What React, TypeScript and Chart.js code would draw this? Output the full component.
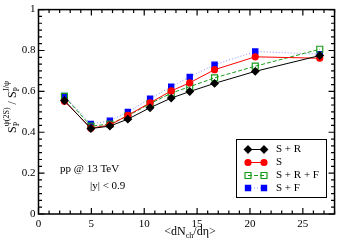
import React, { useEffect, useRef } from "react";
import { Chart, registerables } from "chart.js";

Chart.register(...registerables);

// ---- data ----
const xValues = [2.45, 4.95, 6.75, 8.45, 10.55, 12.55, 14.3, 16.65, 20.5, 26.6];
const seriesLabels = ["S + R", "S", "S + R + F", "S + F"];
const valuesSR = [0.555, 0.418, 0.43, 0.464, 0.52, 0.567, 0.599, 0.639, 0.698, 0.775];
const valuesS = [0.552, 0.42, 0.435, 0.483, 0.544, 0.602, 0.642, 0.706, 0.769, 0.762];
const valuesSRF = [0.575, 0.43, 0.44, 0.48, 0.54, 0.591, 0.623, 0.666, 0.723, 0.806];
const valuesSF = [0.578, 0.44, 0.456, 0.499, 0.564, 0.623, 0.671, 0.73, 0.795, 0.782];
const xMajorTicks = [0, 5, 10, 15, 20, 25];
const yMajorTicks = [0, 0.2, 0.4, 0.6, 0.8, 1];
const annotationLines = ["pp @ 13 TeV", "|y| < 0.9"];

const FONT = '"Liberation Serif", "Times New Roman", serif';

type Style = {
  line: string;
  marker: string;
  fill: string;
  shape: "diamond" | "circle" | "square";
  radius: number;
  dash: number[];
};

// radius: diamond/circle = half size; square = half side
const styles: Style[] = [
  { line: "#000000", marker: "#000000", fill: "#000000", shape: "diamond", radius: 3.6, dash: [] },
  { line: "#ff0000", marker: "#ff0000", fill: "#ff0000", shape: "circle", radius: 3.0, dash: [] },
  { line: "#1a9a1a", marker: "#1a9a1a", fill: "rgba(0,0,0,0)", shape: "square", radius: 3.0, dash: [4, 2] },
  { line: "#8c8cff", marker: "#0000ff", fill: "#0000ff", shape: "square", radius: 2.6, dash: [1, 2] },
];

function drawMarker(ctx: CanvasRenderingContext2D, st: Style, x: number, y: number) {
  ctx.save();
  ctx.setLineDash([]);
  ctx.lineWidth = 1.2;
  ctx.strokeStyle = st.marker;
  ctx.fillStyle = st.fill;
  const r = st.radius;
  ctx.beginPath();
  if (st.shape === "circle") {
    ctx.arc(x, y, r, 0, Math.PI * 2);
  } else if (st.shape === "diamond") {
    ctx.moveTo(x, y - r);
    ctx.lineTo(x + r, y);
    ctx.lineTo(x, y + r);
    ctx.lineTo(x - r, y);
    ctx.closePath();
  } else {
    ctx.rect(x - r, y - r, r * 2, r * 2);
  }
  ctx.fill();
  ctx.stroke();
  ctx.restore();
}

const framePlugin = {
  id: "framePlugin",
  afterDraw(chart: any) {
    const ctx: CanvasRenderingContext2D = chart.ctx;
    const { left, right, top, bottom } = chart.chartArea;
    const xs = chart.scales.x;
    const ys = chart.scales.y;
    ctx.save();
    ctx.strokeStyle = "#000";
    ctx.lineWidth = 1.5;
    ctx.strokeRect(left, top, right - left, bottom - top);

    // ticks
    ctx.lineWidth = 1.2;
    const maj = 6;
    const min = 3.5;
    ctx.beginPath();
    for (let v = 0; v <= 28; v++) {
      const len = v % 5 === 0 ? maj : min;
      const px = xs.getPixelForValue(v);
      ctx.moveTo(px, bottom);
      ctx.lineTo(px, bottom - len);
      ctx.moveTo(px, top);
      ctx.lineTo(px, top + len);
    }
    for (let i = 0; i <= 30; i++) {
      const v = i / 30;
      const len = i % 6 === 0 ? maj : min;
      const py = ys.getPixelForValue(v);
      ctx.moveTo(left, py);
      ctx.lineTo(left + len, py);
      ctx.moveTo(right, py);
      ctx.lineTo(right - len, py);
    }
    ctx.stroke();

    // annotation text
    ctx.fillStyle = "#000";
    ctx.font = `11px ${FONT}`;
    ctx.textBaseline = "middle";
    ctx.textAlign = "left";
    ctx.fillText(annotationLines[0], 60, 169);
    ctx.fillText(annotationLines[1], 90, 186);

    // x title: <dN_ch/dη>
    const xt = 190;
    const yb = 235;
    ctx.textBaseline = "alphabetic";
    const mainF = `12px ${FONT}`;
    const subF = `8px ${FONT}`;
    ctx.font = mainF;
    const p1 = "<dN";
    const p3 = "/d\u03b7>";
    const w1 = ctx.measureText(p1).width;
    const w3 = ctx.measureText(p3).width;
    ctx.font = subF;
    const w2 = ctx.measureText("ch").width;
    let cx = xt - (w1 + w2 + w3) / 2;
    ctx.font = mainF;
    ctx.fillText(p1, cx, yb);
    cx += w1;
    ctx.font = subF;
    ctx.fillText("ch", cx, yb + 3);
    cx += w2;
    ctx.font = mainF;
    ctx.fillText(p3, cx, yb);

    // y title: S_P^{ψ(2S)} / S_P^{J/ψ}
    ctx.save();
    ctx.translate(16, 107);
    ctx.rotate(-Math.PI / 2);
    const parts: [string, string, string][] = [
      ["S", "P", "\u03c8(2S)"],
      [" / S", "P", "J/\u03c8"],
    ];
    let total = 0;
    const widths: number[][] = [];
    for (const [m, sb, sp] of parts) {
      ctx.font = mainF;
      const wm = ctx.measureText(m).width;
      ctx.font = subF;
      const ws = Math.max(ctx.measureText(sb).width, ctx.measureText(sp).width);
      widths.push([wm, ws]);
      total += wm + ws;
    }
    let ux = -total / 2;
    parts.forEach(([m, sb, sp], i) => {
      ctx.font = mainF;
      ctx.fillText(m, ux, 0);
      ux += widths[i][0];
      ctx.font = subF;
      ctx.fillText(sb, ux, 3);
      ctx.fillText(sp, ux, -7);
      ux += widths[i][1];
    });
    ctx.restore();

    // legend
    const lx0 = 236.5;
    const ly0 = 139.5;
    ctx.lineWidth = 1;
    ctx.strokeStyle = "#000";
    ctx.fillStyle = "#fff";
    ctx.fillRect(lx0, ly0, 90, 58);
    ctx.strokeRect(lx0, ly0, 90, 58);
    const rowsY = [149.5, 162.5, 175.5, 188];
    ctx.font = `11px ${FONT}`;
    ctx.textBaseline = "middle";
    seriesLabels.forEach((lab, i) => {
      const st = styles[i];
      const y = rowsY[i];
      ctx.save();
      ctx.strokeStyle = st.line;
      ctx.setLineDash(st.dash);
      ctx.lineWidth = 1;
      ctx.beginPath();
      ctx.moveTo(248, y);
      ctx.lineTo(264, y);
      ctx.stroke();
      ctx.restore();
      drawMarker(ctx, st, 248, y);
      drawMarker(ctx, st, 264, y);
      ctx.fillStyle = "#000";
      ctx.fillText(lab, 276, y);
    });
    ctx.restore();
  },
};

export default function App() {
  const ref = useRef<HTMLCanvasElement | null>(null);
  useEffect(() => {
    document.body.style.margin = "0";
    const canvas = ref.current;
    if (!canvas) return;
    const all = [valuesSR, valuesS, valuesSRF, valuesSF];
    const datasets = all.map((vals, i) => {
      const st = styles[i];
      return {
        label: seriesLabels[i],
        data: xValues.map((x, j) => ({ x, y: vals[j] })),
        borderColor: st.line,
        borderWidth: 1,
        borderDash: st.dash,
        pointStyle: st.shape === "diamond" ? "rectRot" : st.shape === "circle" ? "circle" : "rect",
        // Chart.js 'rect' half side = radius * SQRT1_2
        pointRadius: st.shape === "square" ? st.radius * Math.SQRT2 : st.radius,
        pointBackgroundColor: st.fill,
        pointBorderColor: st.marker,
        pointBorderWidth: 1.2,
        showLine: true,
        fill: false,
        tension: 0,
      };
    });
    const chart = new Chart(canvas, {
      type: "scatter",
      data: { datasets },
      options: {
        animation: false,
        responsive: false,
        devicePixelRatio: 1,
        layout: { padding: { top: 4.5, right: 1.5, left: 0, bottom: 0 } },
        plugins: { legend: { display: false }, tooltip: { enabled: false } },
        scales: {
          x: {
            type: "linear",
            min: 0,
            max: 28,
            afterBuildTicks: (s: any) => {
              s.ticks = xMajorTicks.map((v) => ({ value: v }));
            },
            afterFit: (s: any) => {
              s.height = 29;
            },
            grid: { display: false, drawTicks: false },
            border: { display: false },
            ticks: {
              color: "#000",
              font: { family: FONT, size: 11 },
              padding: 4,
              maxRotation: 0,
              autoSkip: false,
            },
          },
          y: {
            type: "linear",
            min: 0,
            max: 1,
            afterBuildTicks: (s: any) => {
              s.ticks = yMajorTicks.map((v) => ({ value: v }));
            },
            afterFit: (s: any) => {
              s.width = 38.5;
            },
            grid: { display: false, drawTicks: false },
            border: { display: false },
            ticks: {
              color: "#000",
              font: { family: FONT, size: 11 },
              padding: 3,
              autoSkip: false,
              callback: (v: any) => String(Math.round(Number(v) * 10) / 10),
            },
          },
        },
      },
      plugins: [framePlugin],
    } as any);
    return () => chart.destroy();
  }, []);
  return (
    <div style={{ position: "absolute", left: 0, top: 0, width: 340, height: 243 }}>
      <canvas ref={ref} width={340} height={243} style={{ width: 340, height: 243 }} />
    </div>
  );
}
